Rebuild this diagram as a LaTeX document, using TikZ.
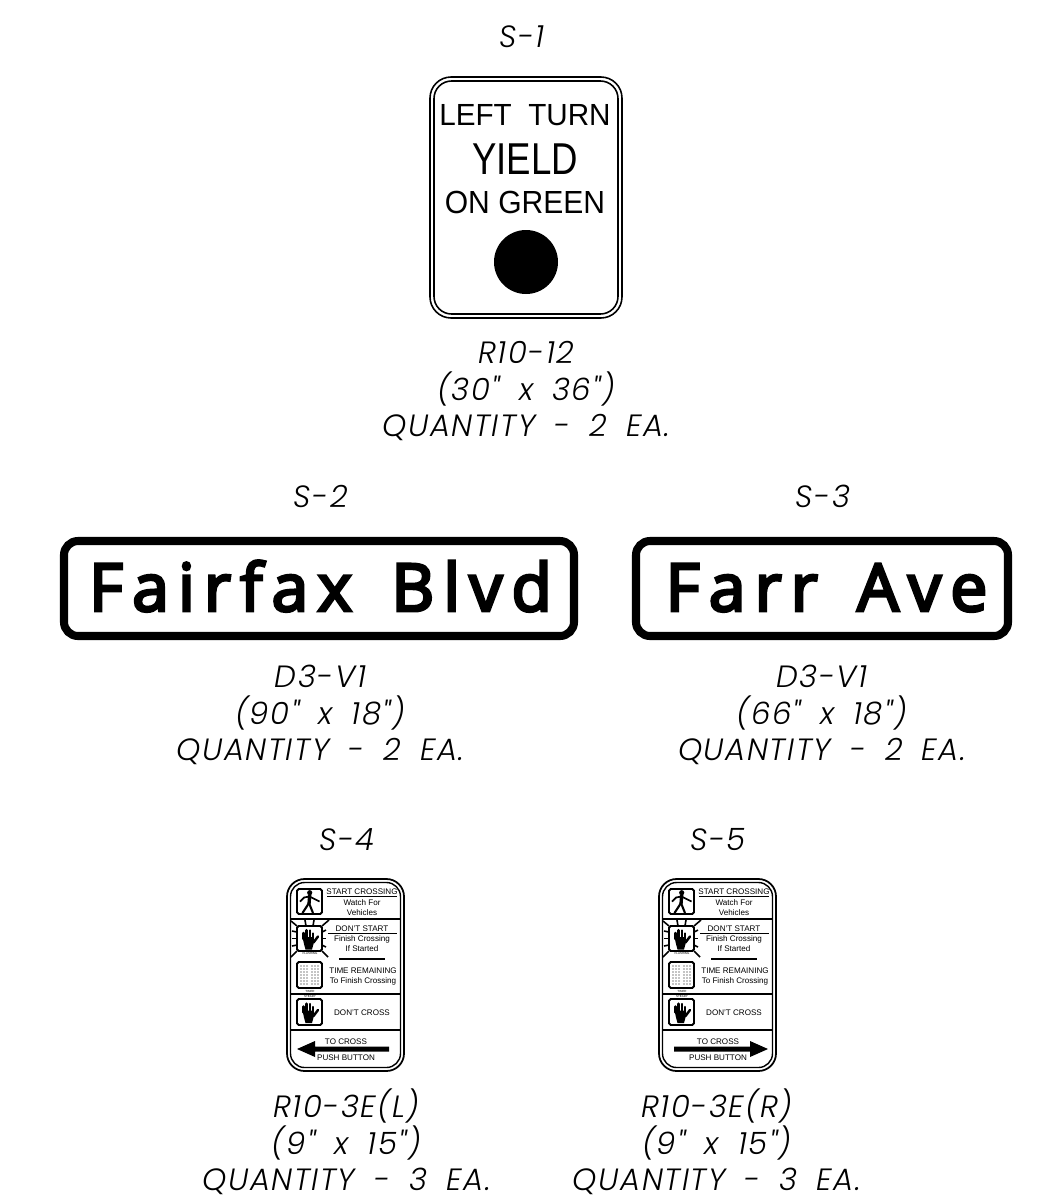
\documentclass[tikz,border=0pt]{standalone}
\usepackage{fontspec}
\setmainfont{Liberation Sans}
\newfontfamily\cadfont[LetterSpace=5,WordSpace=1.8]{Poppins Light Italic}
\newfontfamily\roadfont[LetterSpace=14,WordSpace=1.5,FakeBold=4.5]{Open Sans}
\usetikzlibrary{positioning}
\tikzset{
  cadlabel/.style={font=\cadfont\fontsize{17.5}{20.8}\selectfont, align=center, inner sep=0pt},
  cadtag/.style={font=\cadfont\fontsize{17.5}{21}\selectfont, anchor=base, inner sep=0pt},
  roadtext/.style={font=\roadfont\fontsize{37.5}{40}\selectfont, anchor=base, inner sep=0pt},
  signtext/.style={anchor=base, inner sep=0pt},
  pedtext/.style={font=\fontsize{4.6}{5}\selectfont, anchor=base, inner sep=0pt},
  tinytext/.style={font=\fontsize{1.7}{2}\selectfont, anchor=base, inner sep=0pt},
  iconbox/.style={line width=1.1pt, rounded corners=1},
  handline/.style={line width=1.4pt, line cap=round}
}
% hand symbol, drawn in a box of 25 by 25 at the current origin
\newcommand{\handicon}{
  \fill (5.5,11) -- (17,11) -- (16.5,18) -- (15,23.5) -- (8.5,23.5) -- (7,18) -- cycle;
  \draw[handline] (6.5,13) -- (6.5,7);
  \draw[handline] (9.7,12) -- (9.7,4.2);
  \draw[handline] (12.8,12) -- (12.8,4.5);
  \draw[handline] (15.8,12) -- (15.8,7.5);
  \draw[handline] (16.5,16.5) -- (21,10.5);
}
% pedestrian signal sign: #1,#2 top left corner, #3 prefix, #4 arrow path
\newcommand{\pedsign}[4]{
  \begin{scope}[shift={(#1,#2)}, name prefix=#3-]
    % Border
    \draw[line width=1pt, rounded corners=10] (0,0) rectangle (117,192);
    \draw[line width=0.8pt, rounded corners=8] (3.5,3.5) rectangle (113.5,188.5);
    \draw[line width=0.7pt] (3.5,40) -- (113.5,40);
    \draw[line width=0.7pt] (3.5,115) -- (113.5,115);
    \draw[line width=0.7pt] (3.5,151) -- (113.5,151);

    % Walking figure
    \draw[iconbox] (10,10) rectangle (35,35);
    \begin{scope}[shift={(10,10)}]
      \fill (12.7,3.7) circle (2.6);
      \draw[line width=1.9pt] (12.7,6) -- (12,15);
      \draw[line width=1.2pt] (12,14) -- (5.5,24);
      \draw[line width=1.2pt] (12,14) -- (16,24);
      \draw[line width=1pt] (12.5,7.5) -- (7,8.5) -- (3,12.5);
      \draw[line width=1pt] (12.5,7.5) -- (22.5,12.5);
    \end{scope}
    \node[pedtext] (walk1) at (75,15) {START CROSSING};
    \draw[line width=0.8pt] (40,17.5) -- (110,17.5);
    \node[pedtext] (walk2) at (75,26) {Watch For};
    \node[pedtext] (walk3) at (75,36.5) {Vehicles};

    % Flashing hand
    \draw[iconbox] (10,47) rectangle (35,72);
    \begin{scope}[shift={(10,47)}]
      \handicon
    \end{scope}
    \foreach \xa/\ya/\xb/\yb in {19/47/18/41, 26/47/27/41, 10/47/4/42, 35/47/42/41,
        10/53/5/52, 10/59.5/5/59.5, 10/66/5/67, 10/72/4/78, 35/72/41/78,
        35/53/39/51, 35/59.5/39/59.5, 35/66/39/68}
      \draw[line width=0.9pt] (\xa,\ya) -- (\xb,\yb);
    \node[tinytext] (flash) at (23,75.5) {FLASHING};
    \node[pedtext] (start1) at (75,52) {DON'T START};
    \draw[line width=0.8pt] (41,54.5) -- (110,54.5);
    \node[pedtext] (start2) at (75,62.5) {Finish Crossing};
    \node[pedtext] (start3) at (75,72.5) {If Started};
    \draw[line width=1pt] (52,80) -- (98,80);

    % Countdown
    \draw[iconbox] (10,83) rectangle (35,109);
    \begin{scope}[shift={(10,83)}]
      \foreach \dotx in {4,7,10,15,18,21}
        \foreach \doty in {4,7,10,13,16,19,22}
          \fill (\dotx,\doty) circle (0.55);
    \end{scope}
    \node[tinytext] (timer) at (23,113) {TIMER};
    \node[tinytext] (steady) at (23,118.5) {STEADY};
    \node[pedtext] (time1) at (76,94) {TIME REMAINING};
    \node[pedtext] (time2) at (76,104.5) {To Finish Crossing};

    % Steady hand
    \draw[iconbox] (10,120) rectangle (35,146);
    \begin{scope}[shift={(10,120.5)}]
      \handicon
    \end{scope}
    \node[pedtext] (cross) at (75,136) {DON'T CROSS};

    % Push button
    \node[pedtext] (push1) at (59,165) {TO CROSS};
    \fill #4;
    \node[pedtext] (push2) at (59,181) {PUSH BUTTON};
  \end{scope}
}

\begin{document}
\begin{tikzpicture}[x=0.02cm, y=-0.02cm]
  \useasboundingbox (0,0) rectangle (1043,1201);

  % S-1
  \node[cadtag] (tagone) at (522,47) {S-1};
  \draw[line width=0.9pt, rounded corners=12] (430,77) rectangle (622,318);
  \draw[line width=0.9pt, rounded corners=10] (434,81) rectangle (618,314);
  \node[signtext, font=\fontsize{17.4}{18}\selectfont, xscale=0.97] (left) at (525,125) {LEFT\ \ TURN};
  \node[signtext, font=\fontsize{25.4}{26}\selectfont, xscale=0.82] (yield) at (525,174) {YIELD};
  \node[signtext, font=\fontsize{18.2}{19}\selectfont, xscale=0.94] (green) at (525,213) {ON GREEN};
  \fill (526,262) circle (32);
  \node[cadlabel] (labelone) at (526.5,391) {R10-12\\(30" x 36")\\QUANTITY - 2 EA.};

  % S-2
  \node[cadtag] (tagtwo) at (321,507) {S-2};
  \draw[line width=4.6pt, rounded corners=8] (64,541) rectangle (574,636);
  \node[roadtext] (fairfax) at (320.5,611) {Fairfax Blvd};
  \node[cadlabel] (labeltwo) at (320.5,715) {D3-V1\\(90" x 18")\\QUANTITY - 2 EA.};

  % S-3
  \node[cadtag] (tagthree) at (823,507) {S-3};
  \draw[line width=4.6pt, rounded corners=8] (636,541) rectangle (1008,636);
  \node[roadtext] (farr) at (826.5,611) {Farr Ave};
  \node[cadlabel] (labelthree) at (822,715) {D3-V1\\(66" x 18")\\QUANTITY - 2 EA.};

  % S-4
  \node[cadtag] (tagfour) at (347,850) {S-4};
  \pedsign{287}{879}{left}{(10,170) -- (28,162) -- (28,167.5) -- (102,167.5) -- (102,172.5) -- (28,172.5) -- (28,178) -- cycle}
  \node[cadlabel] (labelfour) at (346.5,1142) {R10-3E(L)\\(9" x 15")\\QUANTITY - 3 EA.};

  % S-5
  \node[cadtag] (tagfive) at (718,850) {S-5};
  \pedsign{659}{879}{right}{(109,170) -- (91,162) -- (91,167.5) -- (15,167.5) -- (15,172.5) -- (91,172.5) -- (91,178) -- cycle}
  \node[cadlabel] (labelfive) at (717,1142) {R10-3E(R)\\(9" x 15")\\QUANTITY - 3 EA.};
\end{tikzpicture}
\end{document}
